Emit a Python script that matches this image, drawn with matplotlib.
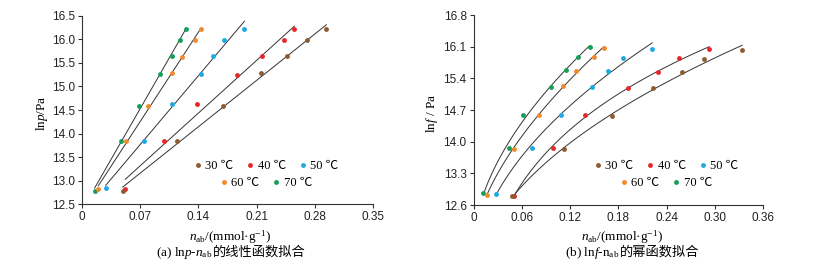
import numpy as np
import matplotlib
matplotlib.use("Agg")
import matplotlib.pyplot as plt
from matplotlib.lines import Line2D
from matplotlib.font_manager import FontProperties

# --- values ---
temps = ["30 ℃", "40 ℃", "50 ℃", "60 ℃", "70 ℃"]
colors = ["#8C5B32", "#E8262A", "#1BA9E6", "#F08A2C", "#12A058"]

# (a) lnp vs n_ab
n_a_30 = [0.049, 0.1145, 0.169, 0.2147, 0.2467, 0.2707, 0.294]
lnp_30 = [12.78, 13.84, 14.59, 15.28, 15.64, 15.98, 16.22]
n_a_40 = [0.052, 0.0981, 0.1382, 0.1862, 0.2159, 0.2431, 0.2555]
lnp_40 = [12.83, 13.84, 14.62, 15.25, 15.64, 15.98, 16.22]
n_a_50 = [0.0285, 0.0741, 0.1077, 0.1426, 0.157, 0.1706, 0.1954]
lnp_50 = [12.85, 13.84, 14.62, 15.26, 15.65, 15.98, 16.22]
n_a_60 = [0.0196, 0.0529, 0.0797, 0.1077, 0.1201, 0.1362, 0.1426]
lnp_60 = [12.82, 13.84, 14.59, 15.28, 15.63, 15.98, 16.22]
n_a_70 = [0.0152, 0.0465, 0.0689, 0.0941, 0.1085, 0.1173, 0.1245]
lnp_70 = [12.78, 13.85, 14.59, 15.26, 15.64, 15.98, 16.22]

# (b) lnf vs n_ab
n_b_30 = [0.0484, 0.113, 0.1718, 0.2224, 0.2592, 0.2865, 0.3337]
lnf_30 = [12.80, 13.83, 14.56, 15.19, 15.54, 15.82, 16.03]
n_b_40 = [0.050, 0.0986, 0.1391, 0.1917, 0.2294, 0.2547, 0.2928]
lnf_40 = [12.81, 13.85, 14.58, 15.19, 15.55, 15.85, 16.05]
n_b_50 = [0.0277, 0.0725, 0.1081, 0.1474, 0.1665, 0.1863, 0.222]
lnf_50 = [12.85, 13.85, 14.59, 15.21, 15.57, 15.86, 16.05]
n_b_60 = [0.0166, 0.0497, 0.0816, 0.111, 0.1271, 0.1495, 0.1615]
lnf_60 = [12.83, 13.84, 14.59, 15.22, 15.56, 15.87, 16.07]
n_b_70 = [0.0124, 0.0443, 0.0609, 0.0961, 0.1143, 0.1292, 0.1441]
lnf_70 = [12.86, 13.86, 14.59, 15.21, 15.59, 15.88, 16.09]

xt_a = [0, 0.07, 0.14, 0.21, 0.28, 0.35]
yt_a = [12.5, 13.0, 13.5, 14.0, 14.5, 15.0, 15.5, 16.0, 16.5]
xt_b = [0, 0.06, 0.12, 0.18, 0.24, 0.30, 0.36]
yt_b = [12.6, 13.3, 14.0, 14.7, 15.4, 16.1, 16.8]

plt.rcParams['font.family'] = ['Liberation Sans', 'Noto Sans CJK SC']
plt.rcParams['mathtext.fontset'] = 'custom'
plt.rcParams['mathtext.rm'] = 'Liberation Serif'
plt.rcParams['mathtext.it'] = 'Liberation Serif:italic'
plt.rcParams['axes.linewidth'] = 0.8

W, H = 815, 269
fig = plt.figure(figsize=(W / 100, H / 100), dpi=100)

def px_axes(x0, y0, x1, y1):
    return fig.add_axes([x0 / W, 1 - y1 / H, (x1 - x0) / W, (y1 - y0) / H])

ax_a = px_axes(82, 15.7, 373, 204.3)
ax_b = px_axes(473.5, 15, 763.3, 205)

serif_cjk = ['Liberation Serif', 'Noto Sans CJK SC']
leg_font = FontProperties(family=serif_cjk, size=9)

def style(ax, xt, yt, xfmt, yfmt):
    for s in ['top', 'right']:
        ax.spines[s].set_visible(False)
    for s in ['left', 'bottom']:
        ax.spines[s].set_color('#333333')
    ax.set_xlim(xt[0], xt[-1])
    ax.set_ylim(yt[0], yt[-1])
    ax.set_xticks(xt)
    ax.set_yticks(yt)
    ax.set_xticklabels(["0"] + [xfmt.format(v) for v in xt[1:]])
    ax.set_yticklabels([yfmt.format(v) for v in yt])
    ax.tick_params(direction='out', length=3, width=0.8, labelsize=8.5,
                   colors='#333333', labelcolor='#222222', pad=2)

series_a = [(n_a_30, lnp_30), (n_a_40, lnp_40), (n_a_50, lnp_50),
            (n_a_60, lnp_60), (n_a_70, lnp_70)]
series_b = [(n_b_30, lnf_30), (n_b_40, lnf_40), (n_b_50, lnf_50),
            (n_b_60, lnf_60), (n_b_70, lnf_70)]

def power_fit(x, y):
    # y = a + b * x**c, c picked by a simple scan
    best = None
    for c in np.linspace(0.05, 1.5, 300):
        A = np.column_stack([np.ones_like(x), x ** c])
        coef, *_ = np.linalg.lstsq(A, y, rcond=None)
        r = np.sum((A @ coef - y) ** 2)
        if best is None or r < best[0]:
            best = (r, c, coef)
    _, c, (a, b) = best
    return lambda t: a + b * t ** c

# linear fits
for x, y in series_a:
    x = np.array(x); y = np.array(y)
    k, b = np.polyfit(x, y, 1)
    xs = np.array([x.min(), x.max()])
    ax_a.plot(xs, k * xs + b, color='#333333', lw=0.7, zorder=2)
# power fits
for x, y in series_b:
    x = np.array(x); y = np.array(y)
    f = power_fit(x, y)
    xs = np.linspace(x.min(), x.max(), 100)
    ax_b.plot(xs, f(xs), color='#333333', lw=0.7, zorder=2)

# points, 30 ℃ drawn last so it sits on top
for ax, series in [(ax_a, series_a), (ax_b, series_b)]:
    for (x, y), c in reversed(list(zip(series, colors))):
        ax.plot(x, y, 'o', color=c, ms=3.5, mec='none', zorder=3)

style(ax_a, xt_a, yt_a, "{:.2f}", "{:.1f}")
style(ax_b, xt_b, yt_b, "{:.2f}", "{:.1f}")

def legends(ax, cx, y1, y2):
    handles = [Line2D([], [], ls='none', marker='o', ms=3.5, mec='none', color=c)
               for c in colors]
    kw = dict(frameon=False, prop=leg_font, handlelength=0.5, handletextpad=0.35,
              columnspacing=1.1, borderpad=0, borderaxespad=0, loc='center',
              bbox_transform=fig.transFigure)
    l1 = ax.legend(handles[:3], temps[:3], ncol=3,
                   bbox_to_anchor=(cx / W, 1 - y1 / H), **kw)
    ax.add_artist(l1)
    ax.legend(handles[3:], temps[3:], ncol=2,
              bbox_to_anchor=(cx / W, 1 - y2 / H), **kw)

legends(ax_a, 266.5, 166, 183)
legends(ax_b, 666.5, 166, 183)

# axis labels
fig.text(42 / W, 1 - 113 / H, r"ln$\it{p}$/Pa", family='Liberation Serif', size=9.5,
         rotation=90, ha='center', va='center')
fig.text(432 / W, 1 - 113 / H, r"ln$\it{f}$ / Pa", family='Liberation Serif', size=9.5,
         rotation=90, ha='center', va='center')
for cx in (230, 622):
    fig.text(cx / W, 1 - 237 / H, r"$\it{n}_{\rm ab}$/(mmol·g$^{-1}$)",
             family='Liberation Serif', size=9.5, ha='center', va='center')

# captions: latin part then chinese part
def caption(cx, latin, cjk):
    fig.text(cx / W, 1 - 256 / H, latin, family='Liberation Serif', size=9.5,
             ha='right', va='baseline')
    fig.text(cx / W, 1 - 256 / H, cjk, family=serif_cjk, size=9.5,
             ha='left', va='baseline')

caption(213, r"(a) ln$\it{p}$-$\it{n}_{\rm ab}$ ", "的线性函数拟合")
caption(620, r"(b) ln$\it{f}$-n$_{\rm ab}$ ", "的幂函数拟合")

fig.savefig("out.png", dpi=100)
